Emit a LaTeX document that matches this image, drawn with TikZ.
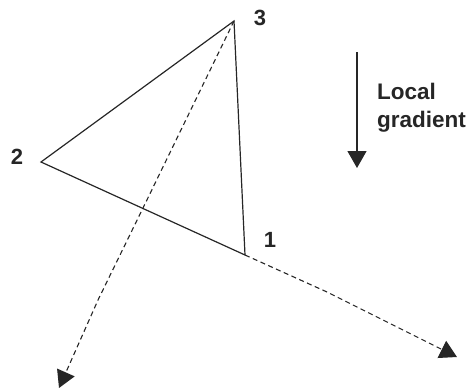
\documentclass[tikz,border=0pt]{standalone}
\usepackage{fontspec}
\setmainfont{Liberation Sans}
\usetikzlibrary{arrows.meta}
\begin{document}
\begin{tikzpicture}[x=1pt,y=-1pt,
  edge/.style={line width=1.2pt,black!85},
  dashedge/.style={line width=1.1pt,black!85,dash pattern=on 5pt off 3.5pt},
  tip/.style={-{Triangle[width=19pt,length=17pt]}},
  lbl/.style={font=\fontsize{22}{27}\selectfont\bfseries,text=black!85,inner sep=0pt},
  txt/.style={font=\fontsize{22.5}{28}\selectfont\bfseries,text=black!85,inner sep=0pt}]
\useasboundingbox (0,0) rectangle (470,391);
\coordinate (v3) at (234,21);
\coordinate (v2) at (41,162);
\coordinate (v1) at (245,255);
\coordinate (b1) at (143,208);
\coordinate (b2) at (98,300);
\coordinate (e1) at (59,388);
\coordinate (c1) at (327,292);
\coordinate (e2) at (457,357);
\coordinate (g0) at (357,52);
\coordinate (g1) at (357,168);
\node[lbl] (n3) at (260,18) {3};
\node[lbl] (n2) at (17,157) {2};
\node[lbl] (n1) at (270,240) {1};
\node[txt,anchor=base west,align=left] (lg) at (377,127) {Local\\gradient};
\draw[edge] (v3) -- (v2) -- (v1) -- cycle;
\draw[dashedge,tip] (v3) -- (b1) -- (b2) -- (e1);
\draw[dashedge,tip] (v1) -- (c1) -- (e2);
\draw[edge,tip] (g0) -- (g1);
\end{tikzpicture}
\end{document}
